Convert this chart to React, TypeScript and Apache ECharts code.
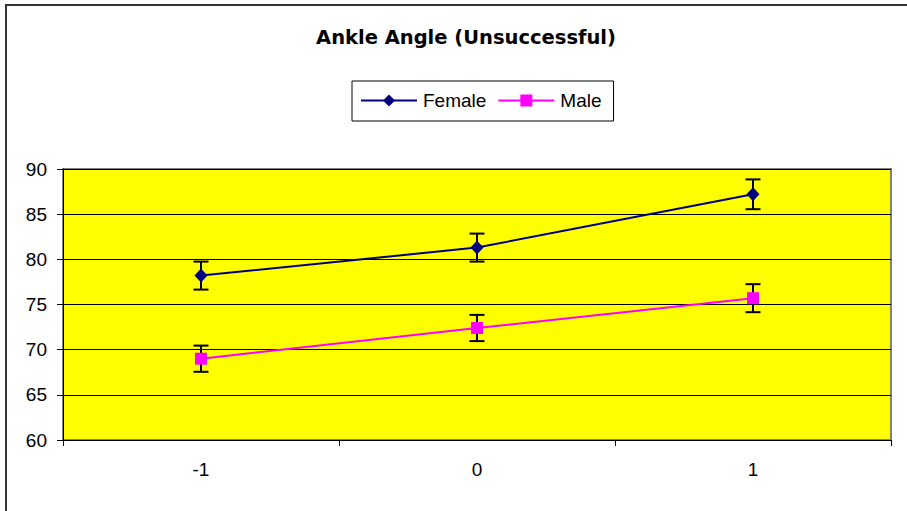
import React, { useEffect, useRef } from "react";
import * as echarts from "echarts";

const categories = ["-1", "0", "1"];
const femaleValues = [78.2, 81.3, 87.2];
const femaleErrors = [1.55, 1.55, 1.65];
const maleValues = [69.0, 72.4, 75.7];
const maleErrors = [1.45, 1.45, 1.55];
const yTicks = { min: 60, max: 90, interval: 5 };

const FONT = "'Liberation Sans', Arial, sans-serif";

function errorData(values: number[], errs: number[]) {
  return values.map((v, i) => [i, v - errs[i], v + errs[i]]);
}

function renderError(params: any, api: any) {
  const x = api.value(0);
  const lo = api.coord([x, api.value(1)]);
  const hi = api.coord([x, api.value(2)]);
  const half = 7.5;
  const style = { stroke: "#000000", lineWidth: 2 };
  return {
    type: "group",
    children: [
      { type: "line", shape: { x1: lo[0], y1: lo[1], x2: hi[0], y2: hi[1] }, style },
      { type: "line", shape: { x1: lo[0] - half, y1: lo[1], x2: lo[0] + half, y2: lo[1] }, style },
      { type: "line", shape: { x1: hi[0] - half, y1: hi[1], x2: hi[0] + half, y2: hi[1] }, style },
    ],
  };
}

export default function App() {
  const ref = useRef<HTMLDivElement>(null);
  useEffect(() => {
    if (!ref.current) return;
    const chart = echarts.init(ref.current, null, { renderer: "svg" });
    chart.setOption({
      animation: false,
      backgroundColor: "#ffffff",
      textStyle: { fontFamily: FONT },
      title: {
        text: "Ankle Angle (Unsuccessful)",
        left: 461,
        top: 22,
        textAlign: "center",
        textStyle: { fontFamily: "'DejaVu Sans', sans-serif", fontSize: 19.5, fontWeight: "bold", color: "#000000" },
      },
      legend: {
        data: ["Female", "Male"],
        left: 352,
        top: 81,
        padding: [10, 12, 11, 8],
        itemGap: 11,
        itemWidth: 56,
        itemHeight: 15,
        borderColor: "#000000",
        borderWidth: 1,
        textStyle: { fontFamily: FONT, fontSize: 19, color: "#000000", padding: [0, 0, 0, 1] },
      },
      graphic: [
        {
          type: "rect",
          shape: { x: 6, y: 5, width: 1000, height: 600 },
          style: { fill: "none", stroke: "#333333", lineWidth: 2 },
          silent: true,
        },
      ],
      grid: {
        left: 63,
        right: 16,
        top: 169,
        bottom: 71,
        show: true,
        backgroundColor: "#FFFF00",
        borderColor: "#808080",
        borderWidth: 2,
      },
      xAxis: {
        type: "category",
        data: categories,
        boundaryGap: true,
        axisLine: { show: true, lineStyle: { color: "#000000", width: 1 } },
        axisTick: { show: true, length: 6, lineStyle: { color: "#000000" } },
        axisLabel: { fontFamily: FONT, fontSize: 19, color: "#000000", margin: 20 },
        splitLine: { show: false },
      },
      yAxis: {
        type: "value",
        min: yTicks.min,
        max: yTicks.max,
        interval: yTicks.interval,
        axisLine: { show: true, lineStyle: { color: "#000000", width: 1 } },
        axisTick: { show: true, length: 6, lineStyle: { color: "#000000" } },
        axisLabel: { fontFamily: FONT, fontSize: 19, color: "#000000", margin: 16 },
        splitLine: { show: true, lineStyle: { color: "#000000", width: 1 } },
      },
      series: [
        {
          name: "FemaleErr",
          type: "custom",
          renderItem: renderError,
          data: errorData(femaleValues, femaleErrors),
          z: 1,
          silent: true,
        },
        {
          name: "MaleErr",
          type: "custom",
          renderItem: renderError,
          data: errorData(maleValues, maleErrors),
          z: 1,
          silent: true,
        },
        {
          name: "Female",
          type: "line",
          data: femaleValues,
          symbol: "diamond",
          symbolSize: [13, 14],
          lineStyle: { color: "#000080", width: 2 },
          itemStyle: { color: "#000080" },
          z: 3,
        },
        {
          name: "Male",
          type: "line",
          data: maleValues,
          symbol: "rect",
          symbolSize: 12,
          lineStyle: { color: "#FF00FF", width: 2 },
          itemStyle: { color: "#FF00FF" },
          z: 3,
        },
      ],
    });
    return () => chart.dispose();
  }, []);
  return (
    <div
      ref={ref}
      style={{ position: "fixed", left: 0, top: 0, width: 907, height: 511 }}
    />
  );
}
